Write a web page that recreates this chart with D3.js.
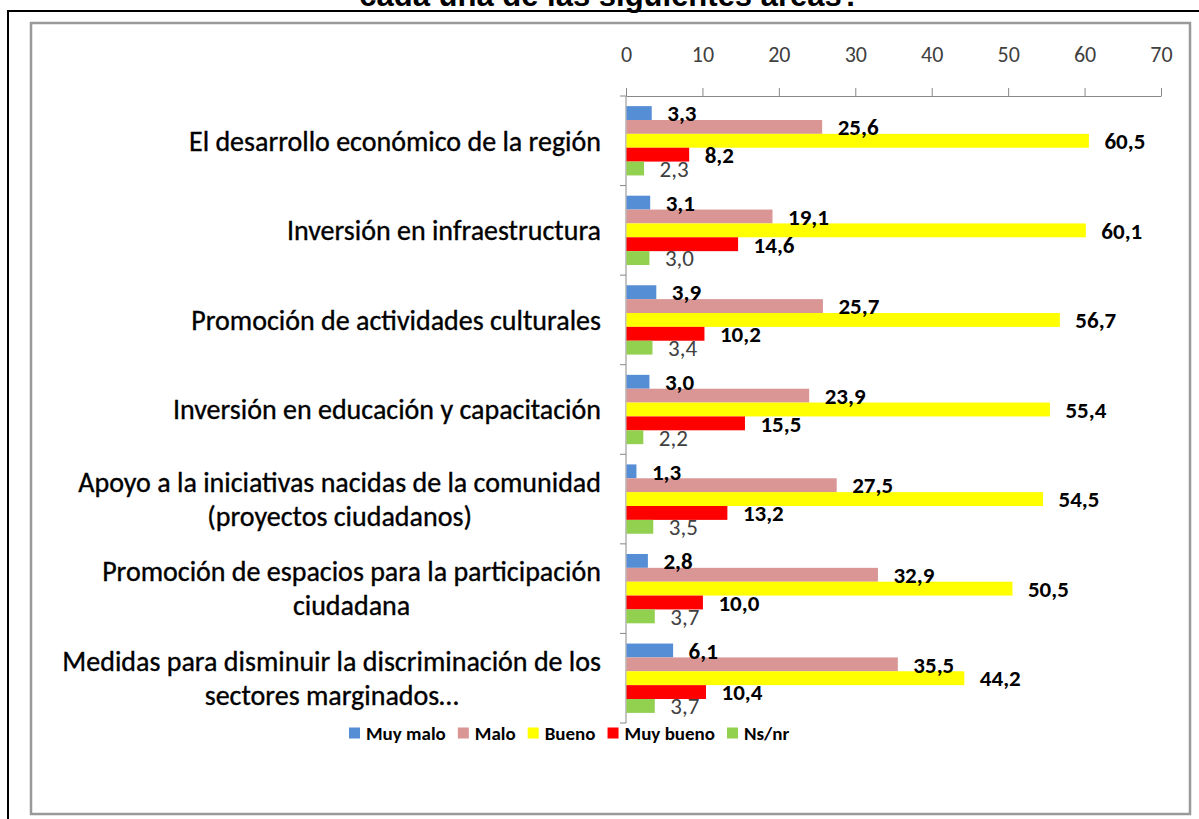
<!DOCTYPE html>
<html>
<head>
<meta charset="utf-8">
<script src="https://cdn.jsdelivr.net/npm/d3@7"></script>
<style>
  body { margin: 0; background: #fff; }
  svg { display: block; }
</style>
</head>
<body>
<div id="chart"></div>
<script>
// categories (line breaks as in the original labels)
const categories = [
  "El desarrollo económico de la región",
  "Inversión en infraestructura",
  "Promoción de actividades culturales",
  "Inversión en educación y capacitación",
  "Apoyo a la iniciativas nacidas de la comunidad\n(proyectos ciudadanos)",
  "Promoción de espacios para la participación\nciudadana",
  "Medidas para disminuir la discriminación de los\nsectores marginados…"
];

const seriesNames = ["Muy malo", "Malo", "Bueno", "Muy bueno", "Ns/nr"];
const seriesColors = ["#558ED5", "#D99694", "#FFFF00", "#FF0000", "#92D050"];

const muyMalo  = [3.3, 3.1, 3.9, 3.0, 1.3, 2.8, 6.1];
const malo     = [25.6, 19.1, 25.7, 23.9, 27.5, 32.9, 35.5];
const bueno    = [60.5, 60.1, 56.7, 55.4, 54.5, 50.5, 44.2];
const muyBueno = [8.2, 14.6, 10.2, 15.5, 13.2, 10.0, 10.4];
const nsnr     = [2.3, 3.0, 3.4, 2.2, 3.5, 3.7, 3.7];

const xTicks = [0, 10, 20, 30, 40, 50, 60, 70];
const titleText = "cada una de las siguientes áreas?";

const seriesValues = [muyMalo, malo, bueno, muyBueno, nsnr];

// flat table for the bars
const rows = [];
categories.forEach((c, i) => {
  seriesNames.forEach((s, j) => {
    rows.push({ category: c, series: s, value: seriesValues[j][i] });
  });
});

const width = 1199, height = 819;
const calibri = "Carlito, Lato, 'Open Sans', sans-serif";

const fmt = d3.formatLocale({ decimal: ",", thousands: ".", grouping: [3], currency: ["", ""] }).format(".1f");

const svg = d3.select("#chart").append("svg")
  .attr("width", width).attr("height", height);

// title (cut by the top edge, as in the source)
svg.append("text")
  .attr("x", 610).attr("y", 6)
  .attr("text-anchor", "middle")
  .attr("font-family", "'Liberation Sans', Arial, sans-serif")
  .attr("font-weight", "bold")
  .attr("font-size", 31)
  .attr("fill", "#000")
  .text(titleText);

// outer frame
svg.append("rect")
  .attr("x", 8).attr("y", 11)
  .attr("width", 1300).attr("height", 900)
  .attr("fill", "none").attr("stroke", "#000").attr("stroke-width", 2);

// inner chart frame
svg.append("rect")
  .attr("x", 31).attr("y", 23)
  .attr("width", 1159).attr("height", 791)
  .attr("fill", "#fff").attr("stroke", "#999").attr("stroke-width", 2.5);

// scales
const x = d3.scaleLinear().domain([0, 70]).range([626, 1161]);
const y0 = d3.scaleBand().domain(categories).range([96, 723]).padding(0);
const y1 = d3.scaleBand().domain(seriesNames).range([0, y0.bandwidth()]).paddingInner(0).paddingOuter(0.73);
const color = d3.scaleOrdinal().domain(seriesNames).range(seriesColors);

// top axis
const xAxis = svg.append("g")
  .attr("transform", `translate(0,96)`)
  .call(d3.axisTop(x).tickValues(xTicks).tickSize(8).tickPadding(26).tickSizeOuter(0));
xAxis.select(".domain").attr("stroke", "#888");
xAxis.selectAll(".tick line").attr("stroke", "#888");
xAxis.selectAll(".tick text")
  .attr("font-family", calibri)
  .attr("font-size", 22)
  .attr("fill", "#404040");

// left axis: line + tick marks at the band boundaries
const yEdges = categories.map(c => y0(c)).concat([y0.range()[1]]);
svg.append("line")
  .attr("x1", x(0)).attr("x2", x(0))
  .attr("y1", 96).attr("y2", y0.range()[1])
  .attr("stroke", "#888");
svg.selectAll("line.ytick")
  .data(yEdges)
  .join("line")
  .attr("class", "ytick")
  .attr("x1", x(0) - 6).attr("x2", x(0))
  .attr("y1", d => d).attr("y2", d => d)
  .attr("stroke", "#888");

// bars
svg.selectAll("rect.bar")
  .data(rows)
  .join("rect")
  .attr("class", "bar")
  .attr("x", x(0) + 0.5)
  .attr("y", d => y0(d.category) + y1(d.series))
  .attr("width", d => x(d.value) - x(0))
  .attr("height", y1.bandwidth())
  .attr("fill", d => color(d.series));

// value labels
svg.selectAll("text.val")
  .data(rows)
  .join("text")
  .attr("class", "val")
  .attr("x", d => x(d.value) + 16)
  .attr("y", d => y0(d.category) + y1(d.series) + y1.bandwidth() / 2)
  .attr("dy", "0.36em")
  .attr("font-family", calibri)
  .attr("font-size", 23)
  .attr("font-weight", d => d.series === "Ns/nr" ? "normal" : "bold")
  .attr("fill", d => d.series === "Ns/nr" ? "#404040" : "#000")
  .text(d => fmt(d.value));

// category labels (second line centred under the first, like Excel wrapping)
const labelRight = 601;
const catG = svg.selectAll("g.cat")
  .data(categories)
  .join("g")
  .attr("class", "cat")
  .attr("font-family", calibri)
  .attr("font-size", 28)
  .attr("fill", "#000")
  .attr("stroke", "#000")
  .attr("stroke-width", 0.35);

catG.each(function (c) {
  const g = d3.select(this);
  const lines = c.split("\n");
  const cy = y0(c) + y0.bandwidth() / 2;
  const lh = 34;
  const top = cy - (lines.length - 1) * lh / 2;
  const first = g.append("text")
    .attr("x", labelRight)
    .attr("y", top)
    .attr("dy", "0.35em")
    .attr("text-anchor", "end")
    .text(lines[0]);
  const w = first.node().getComputedTextLength();
  lines.slice(1).forEach((ln, k) => {
    g.append("text")
      .attr("x", labelRight - w / 2)
      .attr("y", top + (k + 1) * lh)
      .attr("dy", "0.35em")
      .attr("text-anchor", "middle")
      .text(ln);
  });
});

// legend
const legendG = svg.append("g").attr("transform", "translate(349,733)");
let lx = 0;
seriesNames.forEach(s => {
  const item = legendG.append("g").attr("transform", `translate(${lx},0)`);
  item.append("rect")
    .attr("x", 0).attr("y", -5.5)
    .attr("width", 11).attr("height", 11)
    .attr("fill", color(s));
  const t = item.append("text")
    .attr("x", 17).attr("y", 0)
    .attr("dy", "0.35em")
    .attr("font-family", calibri)
    .attr("font-size", 19)
    .attr("font-weight", "bold")
    .attr("fill", "#000")
    .text(s);
  lx += 17 + t.node().getComputedTextLength() + 12;
});
</script>
</body>
</html>
